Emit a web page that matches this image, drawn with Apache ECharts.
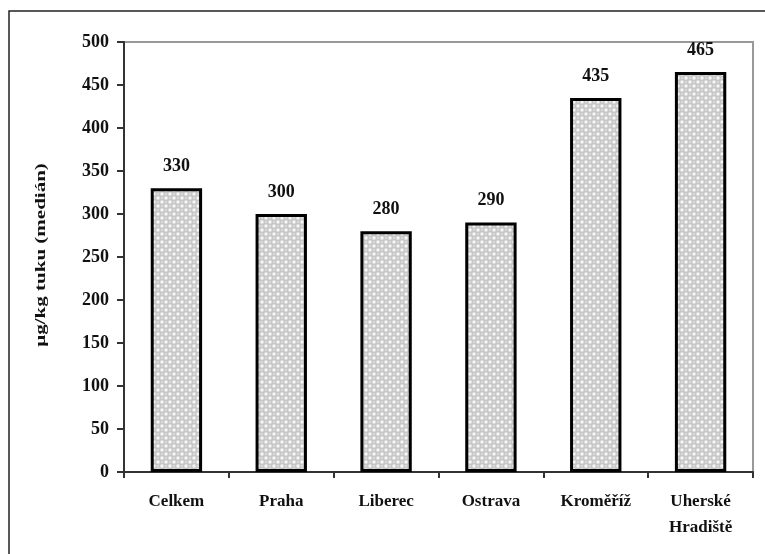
<!DOCTYPE html>
<html>
<head>
<meta charset="utf-8">
<script src="https://cdn.jsdelivr.net/npm/echarts@6/dist/echarts.min.js"></script>
<style>
  html, body { margin: 0; padding: 0; background: #fff; }
  #chart { width: 765px; height: 554px; }
</style>
</head>
<body>
<div id="chart"></div>
<script>
const categories = ['Celkem', 'Praha', 'Liberec', 'Ostrava', 'Kroměříž', 'Uherské\nHradiště']
const values = [330, 300, 280, 290, 435, 465]
const yTicks = [0, 50, 100, 150, 200, 250, 300, 350, 400, 450, 500]
const yName = 'µg/kg tuku (medián)'

// little dotted crosshatch like the original fill
function makePattern() {
  const c = document.createElement('canvas')
  c.width = 8
  c.height = 8
  const ctx = c.getContext('2d')
  ctx.fillStyle = '#c6c6c6'
  ctx.fillRect(0, 0, 8, 8)
  ctx.fillStyle = '#f6f6f6'
  ctx.beginPath(); ctx.arc(2, 2, 1.7, 0, Math.PI * 2); ctx.fill()
  ctx.beginPath(); ctx.arc(6, 6, 1.7, 0, Math.PI * 2); ctx.fill()
  ctx.fillStyle = '#e2e2e2'
  ctx.beginPath(); ctx.arc(6, 2, 1, 0, Math.PI * 2); ctx.fill()
  ctx.beginPath(); ctx.arc(2, 6, 1, 0, Math.PI * 2); ctx.fill()
  return c
}

const font = 'Liberation Serif'
const chart = echarts.init(document.getElementById('chart'))
chart.setOption({
  animation: false,
  graphic: [
    {
      type: 'rect',
      shape: { x: 9, y: 11, width: 800, height: 600 },
      style: { fill: 'none', stroke: '#222', lineWidth: 1.5 },
      z: -1
    },
    {
      // axis title, stretched along its length like the original
      type: 'text',
      x: 41, y: 255,
      rotation: Math.PI / 2,
      scaleX: 1.4,
      style: {
        text: yName, fill: '#111',
        font: 'bold 15px "Liberation Serif"',
        align: 'center', verticalAlign: 'middle'
      }
    }
  ],
  grid: {
    left: 124, right: 12, top: 42, bottom: 82,
    show: true, borderColor: '#999', borderWidth: 2, backgroundColor: '#fff'
  },
  xAxis: {
    type: 'category',
    data: categories,
    axisLine: { lineStyle: { color: '#333', width: 2 } },
    axisTick: { show: true, length: 6, lineStyle: { color: '#333', width: 2 } },
    axisLabel: {
      color: '#111', fontFamily: font, fontWeight: 'bold', fontSize: 17,
      margin: 17, lineHeight: 26, interval: 0
    }
  },
  yAxis: {
    type: 'value',
    min: 0, max: 500, interval: 50,
    axisLine: { show: true, lineStyle: { color: '#333', width: 2 } },
    axisTick: { show: true, length: 7, lineStyle: { color: '#333', width: 2 } },
    splitLine: { show: false },
    axisLabel: {
      color: '#111', fontFamily: font, fontWeight: 'bold', fontSize: 18, margin: 15,
      formatter: v => yTicks.includes(v) ? String(v) : ''
    }
  },
  series: [{
    type: 'bar',
    data: values,
    barWidth: '49%',
    itemStyle: {
      color: { image: makePattern(), repeat: 'repeat' },
      borderColor: '#000',
      borderWidth: 3
    },
    label: {
      show: true, position: 'top', distance: 13,
      color: '#111', fontFamily: font, fontWeight: 'bold', fontSize: 18
    }
  }]
})
</script>
</body>
</html>
